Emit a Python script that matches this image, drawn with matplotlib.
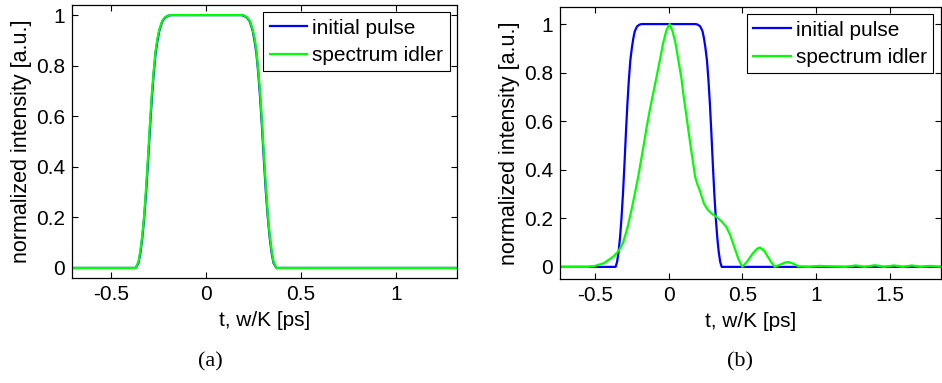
"""Two-panel pulse / idler spectrum comparison."""

import matplotlib

matplotlib.use("Agg")
import matplotlib.pyplot as plt  # noqa: E402
from matplotlib.ticker import FuncFormatter  # noqa: E402

# panel (a): initial pulse and idler spectrum nearly overlap
t_pulse_a = [-0.70, -0.37, -0.355, -0.345, -0.335, -0.325, -0.315, -0.305, -0.295,
             -0.285, -0.275, -0.265, -0.255, -0.245, -0.23, -0.215, -0.20, -0.185,
             0.185, 0.20, 0.215, 0.23, 0.245, 0.255, 0.265, 0.275, 0.285, 0.295,
             0.305, 0.315, 0.325, 0.335, 0.345, 0.355, 0.37, 1.32]
i_pulse_a = [0.0, 0.0, 0.02, 0.06, 0.12, 0.2, 0.3, 0.42, 0.55, 0.67, 0.77, 0.85,
             0.9, 0.94, 0.975, 0.99, 0.997, 1.0,
             1.0, 0.997, 0.99, 0.975, 0.94, 0.9, 0.85, 0.77, 0.67, 0.55,
             0.42, 0.3, 0.2, 0.12, 0.06, 0.02, 0.0, 0.0]
t_idler_a = [-0.70, -0.37, -0.355, -0.345, -0.335, -0.325, -0.315, -0.305, -0.295,
             -0.285, -0.275, -0.265, -0.255, -0.245, -0.23, -0.215, -0.20, -0.185,
             0.185, 0.20, 0.215, 0.23, 0.245, 0.255, 0.265, 0.275, 0.285, 0.295,
             0.305, 0.315, 0.325, 0.335, 0.345, 0.355, 0.37, 1.32]
i_idler_a = [0.0, 0.0, 0.025, 0.07, 0.13, 0.21, 0.32, 0.44, 0.57, 0.69, 0.78, 0.86,
             0.91, 0.945, 0.978, 0.992, 0.998, 1.0,
             1.0, 0.998, 0.992, 0.978, 0.945, 0.91, 0.86, 0.78, 0.69, 0.57,
             0.44, 0.32, 0.21, 0.13, 0.07, 0.025, 0.0, 0.0]

# panel (b): same pulse, idler spectrum narrower with side lobes
t_pulse_b = [-0.74, -0.36, -0.35, -0.34, -0.33, -0.32, -0.31, -0.30, -0.29, -0.28,
             -0.27, -0.26, -0.25, -0.24, -0.23, -0.215, -0.20, -0.185,
             0.185, 0.20, 0.215, 0.23, 0.24, 0.25, 0.26, 0.27, 0.28, 0.29, 0.30,
             0.31, 0.32, 0.33, 0.34, 0.35, 0.36, 1.85]
i_pulse_b = [0.0, 0.0, 0.02, 0.06, 0.12, 0.2, 0.3, 0.42, 0.55, 0.67, 0.77, 0.85,
             0.9, 0.94, 0.97, 0.99, 0.997, 1.0,
             1.0, 0.997, 0.99, 0.97, 0.94, 0.9, 0.85, 0.77, 0.67, 0.55, 0.42,
             0.3, 0.2, 0.12, 0.06, 0.02, 0.0, 0.0]
t_idler_b = [-0.74, -0.55, -0.50, -0.44, -0.376, -0.34, -0.309, -0.28, -0.252,
             -0.23, -0.207, -0.187, -0.167, -0.148, -0.128, -0.105, -0.083, -0.06,
             -0.038, -0.015, 0.007, 0.027, 0.047, 0.066, 0.086, 0.10, 0.115, 0.13,
             0.146, 0.163, 0.18, 0.195, 0.21, 0.24, 0.266, 0.295, 0.322, 0.355,
             0.39, 0.415, 0.435, 0.455, 0.475, 0.50, 0.53, 0.57, 0.60, 0.62, 0.65,
             0.69, 0.72, 0.76, 0.79, 0.815, 0.85, 0.88, 0.95, 1.02, 1.10, 1.20,
             1.27, 1.33, 1.40, 1.46, 1.53, 1.59, 1.65, 1.71, 1.77, 1.85]
i_idler_b = [0.0, 0.0, 0.004, 0.015, 0.042, 0.065, 0.10, 0.16, 0.235,
             0.30, 0.37, 0.44, 0.51, 0.58, 0.646, 0.715, 0.78, 0.85,
             0.92, 0.975, 1.0, 0.97, 0.92, 0.85, 0.78, 0.71, 0.646, 0.58,
             0.51, 0.44, 0.37, 0.34, 0.317, 0.26, 0.235, 0.218, 0.207, 0.19,
             0.166, 0.135, 0.10, 0.065, 0.03, 0.0, 0.02, 0.055, 0.075, 0.08, 0.065,
             0.025, 0.0, 0.01, 0.018, 0.02, 0.012, 0.002, 0.0, 0.004, 0.002, 0.0,
             0.006, 0.0, 0.007, 0.0, 0.006, 0.0, 0.006, 0.0, 0.004, 0.0]

BLUE = "#0000ff"
GREEN = "#00ff00"

plt.rcParams["font.family"] = "Liberation Sans"


def style_axes(ax, xlim, ylim, xticks):
    ax.set_xlim(*xlim)
    ax.set_ylim(*ylim)
    ax.set_xticks(xticks)
    ax.set_yticks([0, 0.2, 0.4, 0.6, 0.8, 1.0])
    fmt = FuncFormatter(lambda v, _: f"{v:g}")
    ax.xaxis.set_major_formatter(fmt)
    ax.yaxis.set_major_formatter(fmt)
    ax.tick_params(direction="in", top=True, right=True, length=4, width=0.8,
                   labelsize=15, pad=5)
    for s in ax.spines.values():
        s.set_linewidth(0.9)
    ax.set_xlabel("t, w/K [ps]", fontsize=15, labelpad=5)
    ax.set_ylabel("normalized intensity [a.u.]", fontsize=15.5, labelpad=3)
    leg = ax.legend(loc="upper right", fontsize=15, frameon=True, fancybox=False,
                    edgecolor="black", framealpha=1, handlelength=1.8,
                    handletextpad=0.25, borderpad=0.3, labelspacing=0.4,
                    borderaxespad=0.35)
    leg.get_frame().set_linewidth(0.8)


fig = plt.figure(figsize=(9.42, 3.83), dpi=100)

ax_a = fig.add_axes([0.0764, 0.274, 0.4087, 0.713])
ax_a.plot(t_pulse_a, i_pulse_a, color=BLUE, lw=1.6, label="initial pulse")
ax_a.plot(t_idler_a, i_idler_a, color=GREEN, lw=1.6, label="spectrum idler")
style_axes(ax_a, (-0.705, 1.32), (-0.04, 1.04), [-0.5, 0, 0.5, 1])

ax_b = fig.add_axes([0.5945, 0.2715, 0.4040, 0.710])
ax_b.plot(t_pulse_b, i_pulse_b, color=BLUE, lw=1.6, label="initial pulse")
ax_b.plot(t_idler_b, i_idler_b, color=GREEN, lw=1.6, label="spectrum idler")
style_axes(ax_b, (-0.737, 1.845), (-0.05, 1.07), [-0.5, 0, 0.5, 1, 1.5])

fig.text(210 / 942, 1 - 362 / 383, "(a)", ha="center", va="center",
         fontsize=16, family="Liberation Serif")
fig.text(740 / 942, 1 - 362 / 383, "(b)", ha="center", va="center",
         fontsize=16, family="Liberation Serif")

fig.savefig("out.png", dpi=100)
plt.close(fig)
